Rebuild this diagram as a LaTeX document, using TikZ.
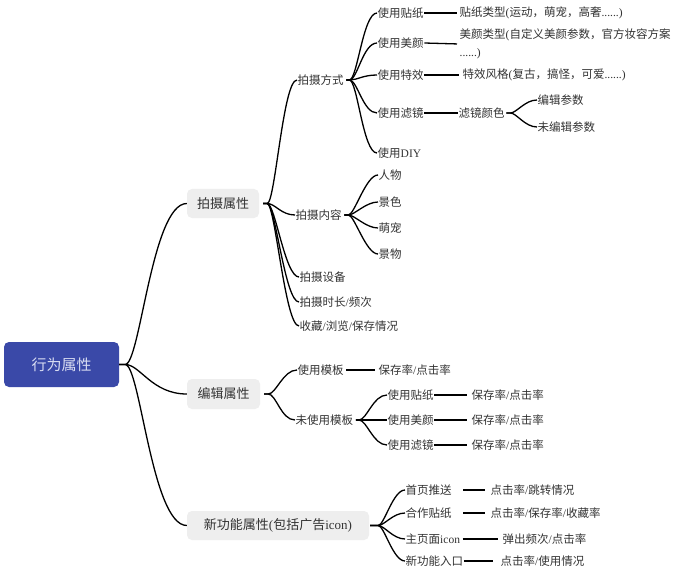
\documentclass[tikz,border=0pt]{standalone}
\usepackage{fontspec}
\setmainfont{Noto Sans CJK SC}
\newfontfamily\lat{Liberation Serif}
\newcommand{\la}[1]{{\lat #1}}
\definecolor{textgray}{HTML}{333333}
\definecolor{boxgray}{HTML}{EEEEEE}
\definecolor{rootblue}{HTML}{3A49A8}
\definecolor{roottext}{HTML}{D9DDF2}
\tikzset{
  link/.style={draw=black, line width=1.3pt},
  branch/.style n args={3}{to path={-- ++(#1,0) .. controls +(#2,0) and +(-#3,0) .. (\tikztotarget)}},
  txt/.style={anchor=west, inner sep=0.5pt, text=textgray, font=\fontsize{11.5}{18}\selectfont},
  lone/.style={rounded corners=5pt, fill=boxgray, text=textgray, font=\fontsize{13}{15}\selectfont, inner sep=0pt, minimum height=29pt},
  rootbox/.style={rounded corners=5pt, fill=rootblue, text=roottext, font=\fontsize{15}{17}\selectfont, inner sep=0pt}
}
\begin{document}
\begin{tikzpicture}[x=1pt,y=-1pt]
\fill[white] (0,0) rectangle (674,572);
\useasboundingbox (0,0) rectangle (674,572);
% root and level 1
\node[rootbox, minimum width=115pt, minimum height=45pt] (R) at (61.5,364.5) {行为属性};
\node[lone, minimum width=72pt] (A) at (223,203.5) {拍摄属性};
\node[lone, minimum width=73pt, minimum height=30pt] (B) at (223.5,394) {编辑属性};
\node[lone, minimum width=182pt] (C) at (278,525.5) {新功能属性\la{(}包括广告\la{icon)}};
% level 2 under A
\node[txt] (A1) at (297,80) {拍摄方式};
\node[txt] (A2) at (295,215) {拍摄内容};
\node[txt] (A3) at (299,277) {拍摄设备};
\node[txt] (A4) at (299,302) {拍摄时长\la{/}频次};
\node[txt] (A5) at (299,326) {收藏\la{/}浏览\la{/}保存情况};
% A1 children
\node[txt] (A11) at (377,13) {使用贴纸};
\node[txt] (A12) at (377,43) {使用美颜};
\node[txt] (A13) at (377,75) {使用特效};
\node[txt] (A14) at (377,113) {使用滤镜};
\node[txt] (A15) at (377,153) {使用\la{DIY}};
\node[txt] (A11v) at (459,13) {贴纸类型\la{(}运动，萌宠，高奢\la{......)}};
\node[txt, align=left] (A12v) at (459,44) {美颜类型\la{(}自定义美颜参数，官方妆容方案\\\la{......)}};
\node[txt] (A13v) at (462,75) {特效风格\la{(}复古，搞怪，可爱\la{......)}};
\node[txt] (A14v) at (458,113) {滤镜颜色};
\node[txt] (A141) at (537,100) {编辑参数};
\node[txt] (A142) at (537,127) {未编辑参数};
% A2 children
\node[txt] (A21) at (378,175) {人物};
\node[txt] (A22) at (378,202) {景色};
\node[txt] (A23) at (378,228) {萌宠};
\node[txt] (A24) at (378,254) {景物};
% B children
\node[txt] (B1) at (297,370) {使用模板};
\node[txt] (B1v) at (378,370) {保存率\la{/}点击率};
\node[txt] (B2) at (295,420) {未使用模板};
\node[txt] (B21) at (387,395) {使用贴纸};
\node[txt] (B22) at (387,420) {使用美颜};
\node[txt] (B23) at (387,445) {使用滤镜};
\node[txt] (B21v) at (471,395) {保存率\la{/}点击率};
\node[txt] (B22v) at (471,420) {保存率\la{/}点击率};
\node[txt] (B23v) at (471,445) {保存率\la{/}点击率};
% C children
\node[txt] (C1) at (405,490) {首页推送};
\node[txt] (C1v) at (490,490) {点击率\la{/}跳转情况};
\node[txt] (C2) at (405,513) {合作贴纸};
\node[txt] (C2v) at (490,513) {点击率\la{/}保存率\la{/}收藏率};
\node[txt] (C3) at (405,539) {主页面\la{icon}};
\node[txt] (C3v) at (502,539) {弹出频次\la{/}点击率};
\node[txt] (C4) at (405,561) {新功能入口};
\node[txt] (C4v) at (500,561) {点击率\la{/}使用情况};
% connectors: root
\foreach \t in {A,B,C}
  \draw[link] (R.east) to[branch={6}{15}{35}] (\t.west);
% A
\foreach \t in {A1,A2,A3,A4,A5}
  \draw[link] ([xshift=4]A.east) to[branch={4}{8}{14}] (\t.west);
\foreach \t in {A11,A12,A13,A14,A15}
  \draw[link] ([xshift=2]A1.east) to[branch={3}{8}{14}] (\t.west);
\draw[link, shorten >=2pt] (A11.east) -- (A11v.west);
\draw[link, shorten >=2pt] (A12.east) -- (A12v.west);
\draw[link, shorten >=3pt] (A13.east) -- (A13v.west);
\draw[link] (A14.east) -- (A14v.west);
\foreach \t in {A141,A142}
  \draw[link] ([xshift=1]A14v.east) to[branch={4}{6}{12}] (\t.west);
\foreach \t in {A21,A22,A23,A24}
  \draw[link] ([xshift=2]A2.east) to[branch={4}{6}{12}] (\t.west);
% B
\foreach \t in {B1,B2}
  \draw[link] ([xshift=4]B.east) to[branch={4}{8}{14}] (\t.west);
\draw[link, shorten <=2pt, shorten >=3pt] (B1.east) -- (B1v.west);
\foreach \t in {B21,B22,B23}
  \draw[link] ([xshift=2]B2.east) to[branch={3}{8}{14}] (\t.west);
\draw[link, shorten >=4pt] (B21.east) -- (B21v.west);
\draw[link, shorten >=4pt] (B22.east) -- (B22v.west);
\draw[link, shorten >=4pt] (B23.east) -- (B23v.west);
% C
\foreach \t in {C1,C2,C3,C4}
  \draw[link] ([xshift=1]C.east) to[branch={8}{6}{12}] (\t.west);
\draw[link, shorten <=11pt, shorten >=5pt] (C1.east) -- (C1v.west);
\draw[link, shorten <=11pt, shorten >=5pt] (C2.east) -- (C2v.west);
\draw[link, shorten <=2pt, shorten >=4pt] (C3.east) -- (C3v.west);
\draw[link, shorten >=7pt] (C4.east) -- (C4v.west);
\end{tikzpicture}
\end{document}
